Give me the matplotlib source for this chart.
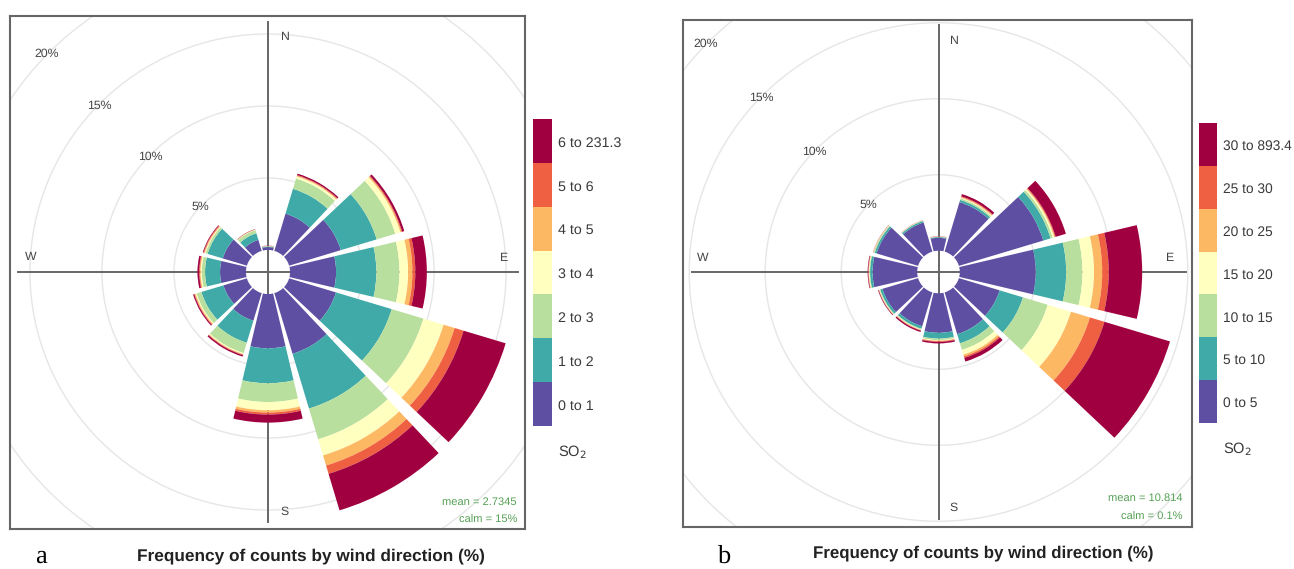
import matplotlib
matplotlib.use('Agg')
import matplotlib.pyplot as plt
from matplotlib.patches import Wedge, Circle

plt.rcParams['font.family'] = ['Liberation Sans', 'DejaVu Sans']
plt.rcParams['text.hinting'] = 'no_hinting'

W, H = 1294, 569

# wind sectors, degrees clockwise from north
directions = [0, 30, 60, 90, 120, 150, 180, 210, 240, 270, 300, 330]
bin_colors = ['#5e4fa2', '#3faaa8', '#b9df9e', '#ffffbf', '#fdb863', '#ee6041', '#a00040']
rings = [5, 10, 15, 20]

# cumulative frequency (%) at the top of each SO2 bin, one list per direction
# panel a
a_000 = [0.20, 0.24, 0.26, 0.27, 0.28, 0.29, 0.30]
a_030 = [2.7, 4.5, 5.25, 5.4, 5.45, 5.5, 5.6]
a_060 = [3.75, 6.35, 7.7, 8.07, 8.15, 8.2, 8.35]
a_090 = [3.2, 6.0, 7.6, 8.2, 8.5, 8.7, 9.5]
a_120 = [3.4, 7.44, 9.74, 11.2, 12.0, 12.65, 15.7]
a_150 = [4.4, 8.37, 10.6, 11.77, 12.5, 13.1, 15.75]
a_180 = [3.77, 6.2, 7.5, 8.07, 8.23, 8.37, 8.93]
a_210 = [2.0, 3.6, 4.35, 4.42, 4.46, 4.5, 4.6]
a_240 = [1.7, 3.3, 3.65, 3.72, 3.78, 3.82, 3.9]
a_270 = [1.8, 2.84, 3.07, 3.15, 3.2, 3.25, 3.37]
a_300 = [1.75, 2.85, 3.0, 3.05, 3.1, 3.15, 3.2]
a_330 = [0.8, 1.28, 1.5, 1.53, 1.55, 1.56, 1.58]
freq_a = [a_000, a_030, a_060, a_090, a_120, a_150, a_180, a_210, a_240, a_270, a_300, a_330]
labels_a = ['0 to 1', '1 to 2', '2 to 3', '3 to 4', '4 to 5', '5 to 6', '6 to 231.3']

# panel b
b_000 = [0.85, 0.9, 0.91, 0.92, 0.93, 0.94, 0.95]
b_030 = [3.4, 3.55, 3.65, 3.7, 3.75, 3.8, 3.95]
b_060 = [5.8, 6.3, 6.45, 6.55, 6.6, 6.65, 7.35]
b_090 = [5.0, 7.0, 8.07, 8.83, 9.37, 9.8, 12.0]
b_120 = [2.8, 4.4, 6.1, 7.7, 9.0, 10.0, 14.5]
b_150 = [2.87, 3.5, 3.95, 4.28, 4.4, 4.5, 4.75]
b_180 = [2.6, 2.98, 3.08, 3.12, 3.15, 3.2, 3.3]
b_210 = [2.33, 2.5, 2.55, 2.58, 2.6, 2.63, 2.72]
b_240 = [2.45, 2.6, 2.65, 2.67, 2.69, 2.71, 2.75]
b_270 = [2.94, 3.1, 3.15, 3.18, 3.2, 3.22, 3.26]
b_300 = [2.85, 2.98, 3.05, 3.07, 3.08, 3.09, 3.1]
b_330 = [2.0, 2.1, 2.13, 2.14, 2.15, 2.15, 2.16]
freq_b = [b_000, b_030, b_060, b_090, b_120, b_150, b_180, b_210, b_240, b_270, b_300, b_330]
labels_b = ['0 to 5', '5 to 10', '10 to 15', '15 to 20', '20 to 25', '25 to 30', '30 to 893.4']

fig = plt.figure(figsize=(W / 100, H / 100), dpi=100)


def px_axes(left, top, right, bottom):
    # axes from pixel box, y counted from the top of the image
    return fig.add_axes([left / W, 1 - bottom / H, (right - left) / W, (bottom - top) / H])


def fig_text(x, y, s, **kw):
    fig.text(x / W, 1 - y / H, s, **kw)


def rose(box, centre, scale, hole, arm, freq):
    left, top, right, bottom = box
    ax = px_axes(*box)
    ax.set_xlim((left - centre[0]) / scale, (right - centre[0]) / scale)
    ax.set_ylim((centre[1] - bottom) / scale, (centre[1] - top) / scale)
    ax.set_xticks([])
    ax.set_yticks([])
    for sp in ax.spines.values():
        sp.set_color('#666666')
        sp.set_linewidth(1.5)
    for p in rings:
        ax.add_patch(Circle((0, 0), p + hole, fill=False, ec='#e6e6e6', lw=1.0, zorder=1))
    # cross arms stop short of the frame
    reach = arm / scale
    ax.plot([-reach, reach], [0, 0], color='#666666', lw=1.4, zorder=2)
    ax.plot([0, 0], [-reach, reach], color='#666666', lw=1.4, zorder=2)
    for d, levels in zip(directions, freq):
        inner = 0
        for top_val, col in zip(levels, bin_colors):
            th = 90 - d
            ax.add_patch(Wedge((0, 0), top_val + hole, th - 13.3, th + 13.3,
                               width=top_val - inner, fc=col, ec='none', zorder=3))
            inner = top_val
    return ax


def colorbar(box, labels, text_x, size):
    ax = px_axes(*box)
    ax.bar([0] * 7, [1] * 7, bottom=range(7), width=1, color=bin_colors)
    ax.set_xlim(-0.5, 0.5)
    ax.set_ylim(0, 7)
    ax.axis('off')
    step = (box[3] - box[1]) / 7
    for i, lab in enumerate(labels):
        fig_text(text_x, box[3] - step * (i + 0.5) + 2, lab, fontsize=size, color='#3a3a3a',
                 ha='left', va='center')


def marks(pos):
    for s, (x, y) in pos.items():
        fig_text(x, y, s, fontsize=8.8, color='#444444', ha='center', va='center')


rose((10, 16, 525, 529), (268, 272), 14.4, 1.53, 250, freq_a)
rose((683, 20, 1192, 527), (938.5, 272), 15.2, 1.4, 247, freq_b)

colorbar((533, 119, 552, 426), labels_a, 558, 10.3)
colorbar((1199, 123, 1217, 423), labels_b, 1223, 9.9)

marks({'N': (285, 37), 'E': (504, 258), 'S': (285, 512), 'W': (31, 257),
       '5%': (200, 207), '10%': (150, 157), '15%': (99, 106), '20%': (47, 54)})
marks({'N': (954, 41), 'E': (1170, 258), 'S': (954, 508), 'W': (703, 258),
       '5%': (868, 205), '10%': (814, 152), '15%': (761, 98), '20%': (706, 44)})

fig_text(558, 452, 'SO$_2$', fontsize=10.5, color='#3a3a3a', ha='left', va='center',
         math_fontfamily='dejavusans')
fig_text(1223, 449, 'SO$_2$', fontsize=10.5, color='#3a3a3a', ha='left', va='center',
         math_fontfamily='dejavusans')

fig_text(517, 502, 'mean = 2.7345', fontsize=8, color='#55a055', ha='right', va='center')
fig_text(517, 520, 'calm = 15%', fontsize=8, color='#55a055', ha='right', va='center')
fig_text(1183, 498, 'mean = 10.814', fontsize=8, color='#55a055', ha='right', va='center')
fig_text(1183, 517, 'calm = 0.1%', fontsize=8, color='#55a055', ha='right', va='center')

fig_text(311, 556, 'Frequency of counts by wind direction (%)', fontsize=12.4,
         fontweight='bold', color='#222222', ha='center', va='center')
fig_text(983, 553, 'Frequency of counts by wind direction (%)', fontsize=12.2,
         fontweight='bold', color='#222222', ha='center', va='center')

fig_text(41, 563, 'a', fontsize=19, family='Liberation Serif', ha='center', va='baseline')
fig_text(725, 563, 'b', fontsize=19, family='Liberation Serif', ha='center', va='baseline')

fig.savefig('out.png', dpi=100)
